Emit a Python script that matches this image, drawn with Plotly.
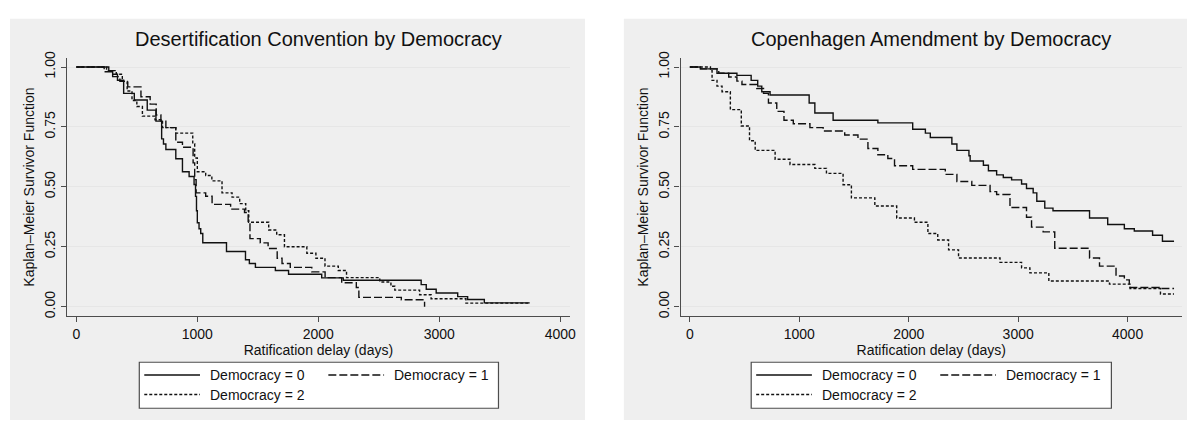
import plotly.graph_objects as go

W, H = 1193, 422

# ---------------- data (Kaplan-Meier step estimates) ----------------
panel_titles = ["Desertification Convention by Democracy", "Copenhagen Amendment by Democracy"]
group_labels = ["Democracy = 0", "Democracy = 1", "Democracy = 2"]
x_tick_vals_left = [0, 1000, 2000, 3000, 4000]
x_tick_vals_right = [0, 1000, 2000, 3000, 4000]
y_tick_vals = [0, 0.25, 0.5, 0.75, 1.0]

# Desertification Convention
des_t0 = [0, 268, 300, 340, 391, 479, 586, 658, 705, 720, 740, 822, 877, 932, 973, 985, 993, 1000,
          1014, 1028, 1045, 1241, 1398, 1430, 1480, 1645, 1754, 2028, 2206, 2850, 2892, 2974, 3152,
          3234, 3372, 3747]
des_s0 = [1.0, 0.985, 0.97, 0.945, 0.89, 0.862, 0.82, 0.774, 0.70, 0.679, 0.656, 0.617, 0.563, 0.543,
          0.51, 0.46, 0.40, 0.35, 0.325, 0.305, 0.267, 0.23, 0.196, 0.18, 0.164, 0.151, 0.135, 0.12,
          0.11, 0.092, 0.073, 0.057, 0.042, 0.03, 0.016, 0.016]

des_t1 = [0, 230, 300, 360, 425, 534, 610, 660, 699, 740, 822, 877, 965, 978, 990, 1069, 1122, 1275,
          1390, 1420, 1435, 1520, 1585, 1660, 1700, 1768, 1946, 2056, 2193, 2314, 2335, 2686, 2878]
des_s1 = [1.0, 0.98, 0.96, 0.94, 0.917, 0.876, 0.845, 0.80, 0.774, 0.747, 0.686, 0.665, 0.60, 0.53,
          0.475, 0.461, 0.427, 0.407, 0.393, 0.35, 0.284, 0.266, 0.243, 0.202, 0.18, 0.164, 0.145,
          0.121, 0.10, 0.08, 0.039, 0.029, 0.0]

des_t2 = [0, 250, 330, 380, 420, 460, 500, 546, 650, 712, 822, 962, 978, 1000, 1069, 1120, 1204, 1287,
          1350, 1400, 1425, 1590, 1656, 1720, 1905, 1980, 2055, 2165, 2233, 2508, 2600, 2632, 2837,
          2932, 3220, 3744]
des_s2 = [1.0, 0.985, 0.97, 0.94, 0.90, 0.86, 0.835, 0.795, 0.78, 0.747, 0.724, 0.68, 0.62, 0.563,
          0.547, 0.525, 0.475, 0.457, 0.43, 0.40, 0.352, 0.32, 0.30, 0.25, 0.223, 0.202, 0.169, 0.151,
          0.121, 0.103, 0.085, 0.069, 0.05, 0.033, 0.015, 0.015]

# Copenhagen Amendment
cop_t0 = [0, 97, 248, 430, 560, 620, 657, 733, 1090, 1142, 1309, 1718, 2036, 2152, 2197, 2394, 2440,
          2550, 2561, 2682, 2728, 2803, 2864, 2940, 3031, 3076, 3137, 3170, 3243, 3318, 3652, 3818,
          3970, 4061, 4228, 4318, 4424]
cop_s0 = [1.0, 0.992, 0.974, 0.965, 0.944, 0.92, 0.897, 0.883, 0.85, 0.808, 0.778, 0.767, 0.74, 0.724,
          0.706, 0.679, 0.652, 0.63, 0.608, 0.59, 0.567, 0.55, 0.539, 0.529, 0.512, 0.493, 0.475, 0.44,
          0.411, 0.40, 0.37, 0.343, 0.325, 0.316, 0.298, 0.273, 0.273]

cop_t1 = [0, 97, 264, 355, 430, 476, 612, 673, 718, 794, 860, 945, 1097, 1218, 1415, 1536, 1627, 1718,
          1809, 1870, 2036, 2334, 2440, 2576, 2743, 2803, 2925, 3076, 3122, 3228, 3334, 3652, 3743,
          3894, 3970, 4015, 4288, 4424]
cop_s1 = [1.0, 0.992, 0.974, 0.958, 0.941, 0.927, 0.91, 0.89, 0.85, 0.815, 0.778, 0.763, 0.747, 0.733,
          0.716, 0.699, 0.66, 0.634, 0.618, 0.588, 0.573, 0.552, 0.522, 0.506, 0.48, 0.468, 0.414,
          0.373, 0.332, 0.312, 0.244, 0.203, 0.169, 0.128, 0.112, 0.08, 0.076, 0.076]

cop_t2 = [0, 188, 203, 248, 294, 370, 470, 545, 597, 779, 915, 1142, 1248, 1400, 1476, 1690, 1890,
          2052, 2175, 2265, 2364, 2455, 2834, 3031, 3107, 3280, 3834, 4022, 4300, 4424]
cop_s2 = [1.0, 0.985, 0.944, 0.92, 0.897, 0.822, 0.754, 0.692, 0.652, 0.615, 0.593, 0.577, 0.556,
          0.509, 0.454, 0.42, 0.37, 0.352, 0.305, 0.278, 0.237, 0.203, 0.185, 0.162, 0.141, 0.107,
          0.094, 0.076, 0.053, 0.053]

# ---------------- styling ----------------
FONT = "Liberation Sans, Arial, Helvetica, sans-serif"
INK = "#111111"
AXIS = "#4d4d4d"
PANEL = "#efefef"
GRID = "#e6e6e6"
dashes = ["solid", "8px,3px", "3px,2px"]
LW = 1.4


def pxx(x):
    return x / W


def pxy(y):
    return 1 - y / H


fig = go.Figure()

series = [
    [(des_t0, des_s0), (des_t1, des_s1), (des_t2, des_s2)],
    [(cop_t0, cop_s0), (cop_t1, cop_s1), (cop_t2, cop_s2)],
]
axes_ids = [("x", "y"), ("x2", "y2")]
for p, grp in enumerate(series):
    for g, (t, s) in enumerate(grp):
        fig.add_trace(go.Scatter(
            x=t, y=s, mode="lines", line_shape="hv",
            line=dict(color=INK, width=LW, dash=dashes[g]),
            name=group_labels[g], showlegend=False,
            xaxis=axes_ids[p][0], yaxis=axes_ids[p][1],
        ))

# panel geometry (pixels)
panels = [
    dict(bg=(10, 12, 588, 422), plot=(67, 52, 573, 316), xr=[-80, 4081], ticks=x_tick_vals_left,
         leg=(140, 363, 501, 410), title_x=320),
    dict(bg=(627, 12, 1193, 422), plot=(684, 52, 1188, 316), xr=[-85, 4497], ticks=x_tick_vals_right,
         leg=(755, 363, 1117, 410), title_x=936),
]

shapes = []
annotations = []
layout_axes = {}
for p, P in enumerate(panels):
    x0, y0, x1, y1 = P["bg"]
    shapes.append(dict(type="rect", xref="paper", yref="paper", x0=pxx(x0), x1=pxx(x1),
                       y0=pxy(y1), y1=pxy(y0), fillcolor=PANEL, line=dict(width=0), layer="below"))
    l, t, r, b = P["plot"]
    xa = "xaxis" if p == 0 else "xaxis2"
    ya = "yaxis" if p == 0 else "yaxis2"
    layout_axes[xa] = dict(
        domain=[pxx(l), pxx(r)], range=P["xr"], anchor="y" if p == 0 else "y2",
        tickmode="array", tickvals=P["ticks"], ticks="outside", ticklen=5, tickwidth=1,
        tickcolor=AXIS, showline=True, linecolor=AXIS, linewidth=1.3, showgrid=False,
        zeroline=False, tickfont=dict(family=FONT, size=14, color=INK),
        title=dict(text="Ratification delay (days)", font=dict(family=FONT, size=14, color=INK),
                   standoff=0),
    )
    layout_axes[ya] = dict(
        domain=[pxy(b), pxy(t)], range=[-0.04, 1.038], anchor="x" if p == 0 else "x2",
        tickmode="array", tickvals=y_tick_vals, tickformat=".2f", tickangle=-90,
        ticks="outside", ticklen=5, tickwidth=1, tickcolor=AXIS, showline=True, linecolor=AXIS,
        linewidth=1.3, showgrid=True, gridcolor=GRID, gridwidth=1.2, zeroline=False,
        tickfont=dict(family=FONT, size=14, color=INK),
        title=dict(text="Kaplan\u2013Meier Survivor Function", font=dict(family=FONT, size=14, color=INK),
                   standoff=3),
    )
    # panel title
    annotations.append(dict(text=panel_titles[p], xref="paper", yref="paper", x=pxx(P["title_x"]),
                            y=pxy(33), xanchor="center", yanchor="middle", showarrow=False,
                            font=dict(family=FONT, size=20, color=INK)))
    # legend box
    lx0, ly0, lx1, ly1 = P["leg"]
    shapes.append(dict(type="rect", xref="paper", yref="paper", x0=pxx(lx0), x1=pxx(lx1),
                       y0=pxy(ly1), y1=pxy(ly0), fillcolor="white",
                       line=dict(color=AXIS, width=1.2), layer="above"))
    rows = [376, 376, 396]
    cols = [lx0 + 5, lx0 + 190, lx0 + 5]
    for g in range(3):
        sx = cols[g]
        sy = rows[g]
        shapes.append(dict(type="line", xref="paper", yref="paper", x0=pxx(sx), x1=pxx(sx + 56),
                           y0=pxy(sy), y1=pxy(sy), line=dict(color=INK, width=LW, dash=dashes[g]),
                           layer="above"))
        annotations.append(dict(text=group_labels[g], xref="paper", yref="paper", x=pxx(sx + 64),
                                y=pxy(sy), xanchor="left", yanchor="middle", showarrow=False,
                                font=dict(family=FONT, size=14, color=INK)))

fig.update_layout(
    width=W, height=H, margin=dict(l=0, r=0, t=0, b=0),
    paper_bgcolor="white", plot_bgcolor="white",
    shapes=shapes, annotations=annotations, showlegend=False,
    font=dict(family=FONT, size=14, color=INK),
    **layout_axes,
)

fig.write_html("out.html")
